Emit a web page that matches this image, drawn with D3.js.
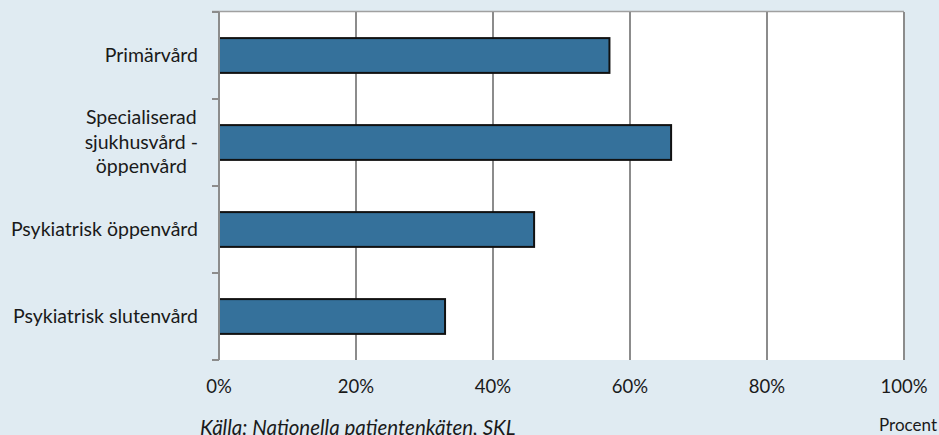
<!DOCTYPE html>
<html>
<head>
<meta charset="utf-8">
<script src="https://cdn.jsdelivr.net/npm/d3@7"></script>
<style>
  html, body { margin: 0; padding: 0; background: #e0ebf2; }
  svg { display: block; }
  text { font-family: Lato, "Open Sans", sans-serif; fill: #1a1a1a; }
</style>
</head>
<body>
<svg id="chart" width="939" height="435"></svg>
<script>
// Andel (%) per vårdform
const categories = [
  ["Primärvård"],
  ["Specialiserad", "sjukhusvård -", "öppenvård"],
  ["Psykiatrisk öppenvård"],
  ["Psykiatrisk slutenvård"]
];
const values = [57, 66, 46, 33];
const xTicks = [0, 20, 40, 60, 80, 100];
const sourceText = "Källa: Nationella patientenkäten, SKL";
const unitText = "Procent";

const W = 939, H = 435;
const margin = { top: 12, right: 35, bottom: 75, left: 219 };
const svg = d3.select("#chart");

const x = d3.scaleLinear().domain([0, 100]).range([margin.left, W - margin.right]);
const y = d3.scaleBand().domain(d3.range(categories.length))
  .range([margin.top, H - margin.bottom]).padding(0);
const barH = y.bandwidth() * 0.4;

// plot area
svg.append("rect")
  .attr("x", x(0)).attr("y", margin.top)
  .attr("width", x(100) - x(0)).attr("height", H - margin.bottom - margin.top)
  .attr("fill", "#ffffff");

// top border
svg.append("line")
  .attr("x1", x(0) - 7).attr("x2", x(100))
  .attr("y1", margin.top - 0.5).attr("y2", margin.top - 0.5)
  .attr("stroke", "#a0a0a0").attr("stroke-width", 1.5);

// vertical gridlines
svg.append("g").selectAll("line").data(xTicks.slice(1)).join("line")
  .attr("x1", d => x(d)).attr("x2", d => x(d))
  .attr("y1", margin.top).attr("y2", H - margin.bottom)
  .attr("stroke", "#8c8c8c").attr("stroke-width", 2);

// bars
svg.append("g").selectAll("rect").data(values).join("rect")
  .attr("x", x(0))
  .attr("y", (d, i) => y(i) + y.bandwidth() / 2 - barH / 2)
  .attr("width", d => x(d) - x(0))
  .attr("height", barH)
  .attr("fill", "#35719b")
  .attr("stroke", "#111111").attr("stroke-width", 2);

// category axis
const yAxisLine = svg.append("g");
yAxisLine.append("line")
  .attr("x1", x(0)).attr("x2", x(0))
  .attr("y1", margin.top).attr("y2", H - margin.bottom)
  .attr("stroke", "#8c8c8c").attr("stroke-width", 2);
const tickYs = d3.range(categories.length + 1).map(i =>
  i < categories.length ? y(i) : y(categories.length - 1) + y.bandwidth());
yAxisLine.selectAll("line.tick").data(tickYs).join("line")
  .attr("class", "tick")
  .attr("x1", x(0) - 7).attr("x2", x(0))
  .attr("y1", d => d).attr("y2", d => d)
  .attr("stroke", "#8c8c8c").attr("stroke-width", 2);

// category labels (multi-line labels centred as a block, right edge aligned)
const labelRight = 198, lineGap = 24.5, fs = 19.5;
categories.forEach((lines, i) => {
  const cy = y(i) + y.bandwidth() / 2;
  const g = svg.append("g");
  const texts = lines.map((ln, j) => g.append("text")
    .attr("font-size", fs)
    .attr("text-anchor", "middle")
    .attr("y", cy + 6 + (j - (lines.length - 1) / 2) * lineGap)
    .text(ln));
  const maxW = d3.max(texts, t => t.node().getComputedTextLength());
  texts.forEach(t => t.attr("x", labelRight - maxW / 2));
});

// value axis labels
svg.append("g").selectAll("text").data(xTicks).join("text")
  .attr("x", d => x(d)).attr("y", 393)
  .attr("text-anchor", "middle").attr("font-size", 18.5)
  .text(d => d + "%");

// source and unit
svg.append("text")
  .attr("x", 200).attr("y", 435)
  .attr("font-size", 20.5).attr("font-style", "italic")
  .text(sourceText);
svg.append("text")
  .attr("x", 937).attr("y", 431)
  .attr("text-anchor", "end").attr("font-size", 17)
  .text(unitText);
</script>
</body>
</html>
